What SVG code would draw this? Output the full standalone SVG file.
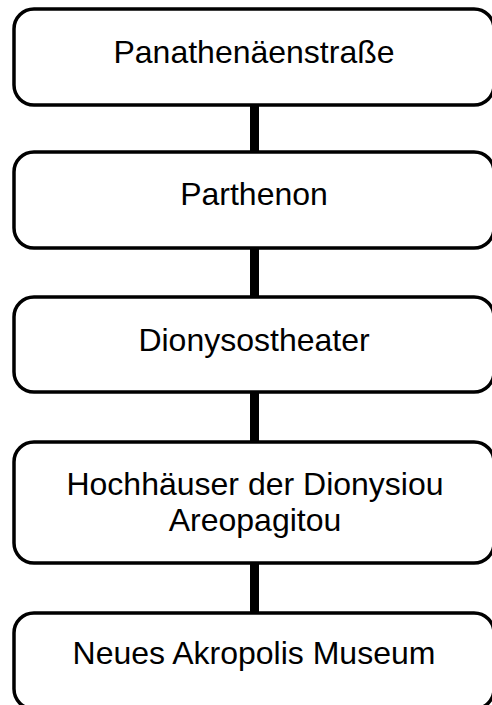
<svg xmlns="http://www.w3.org/2000/svg" width="492" height="705" viewBox="0 0 492 705">
  <style>
    .box { fill: #ffffff; stroke: #000000; stroke-width: 3.5; }
    .label { font-family: "Liberation Sans", Arial, sans-serif; font-size: 32px; fill: #000000; text-anchor: middle; }
    .link { stroke: #000000; stroke-width: 9; fill: none; }
  </style>
  <rect width="492" height="705" fill="#ffffff"/>

  <!-- connectors between consecutive stations -->
  <g id="connectors">
    <line class="link" x1="254.5" y1="105" x2="254.5" y2="152"/>
    <line class="link" x1="254.5" y1="248" x2="254.5" y2="297"/>
    <line class="link" x1="254.5" y1="392" x2="254.5" y2="442"/>
    <line class="link" x1="254.5" y1="563" x2="254.5" y2="613"/>
  </g>

  <g id="panathenaeenstrasse">
    <rect class="box" x="14" y="9" width="480" height="96" rx="20" ry="20"/>
    <text class="label" x="254" y="63">Panathenäenstraße</text>
  </g>

  <g id="parthenon">
    <rect class="box" x="14" y="152" width="480" height="96" rx="20" ry="20"/>
    <text class="label" x="254" y="205">Parthenon</text>
  </g>

  <g id="dionysostheater">
    <rect class="box" x="14" y="297" width="480" height="95" rx="20" ry="20"/>
    <text class="label" x="254" y="351">Dionysostheater</text>
  </g>

  <g id="hochhaeuser">
    <rect class="box" x="14" y="442" width="480" height="121" rx="20" ry="20"/>
    <text class="label" x="255" y="495">Hochhäuser der Dionysiou</text>
    <text class="label" x="255" y="531">Areopagitou</text>
  </g>

  <g id="akropolis-museum">
    <rect class="box" x="14" y="613" width="480" height="96" rx="20" ry="20"/>
    <text class="label" x="254" y="664">Neues Akropolis Museum</text>
  </g>
</svg>
